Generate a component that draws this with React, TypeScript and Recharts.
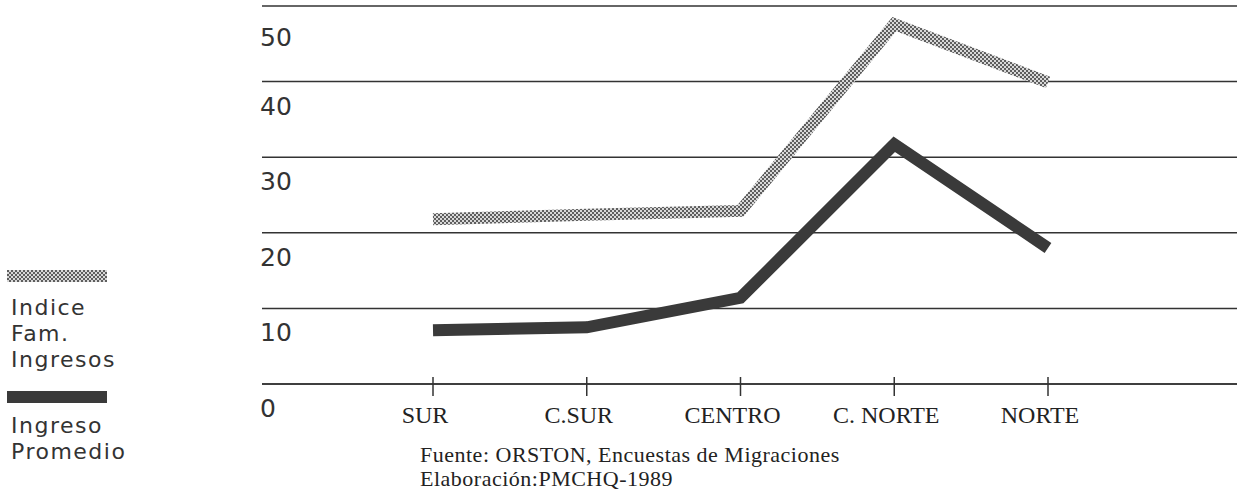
import React from 'react';
import { LineChart, Line, XAxis, YAxis, CartesianGrid, Legend } from 'recharts';

const regions = ['SUR', 'C.SUR', 'CENTRO', 'C. NORTE', 'NORTE'];
const indiceFamIngresos = [21.8, 22.4, 22.9, 47.6, 39.9];
const ingresoPromedio = [7.1, 7.5, 11.4, 31.7, 18.0];
const yTicks = [0, 10, 20, 30, 40, 50];
const sourceLines = ['Fuente: ORSTON, Encuestas de Migraciones', 'Elaboración:PMCHQ-1989'];

const data = regions.map((region, i) => ({
    region,
    indice: indiceFamIngresos[i],
    ingreso: ingresoPromedio[i],
}));

const SANS = '"DejaVu Sans", sans-serif';
const SERIF = '"Liberation Serif", serif';
const INK = '#333';

const YTick = (props: any) => {
    const { x, y, payload, index } = props;
    // top label sits a little lower under the frame line
    const dy = index === yTicks.length - 1 ? 40 : 33;
    return (
        <text x={x - 2} y={y + dy} fill={INK} fontSize={25} fontFamily={SANS} textAnchor="start">
            {payload.value}
        </text>
    );
};

const XTick = (props: any) => {
    const { x, y, payload } = props;
    return (
        <g>
            <line x1={x} x2={x} y1={y - 7} y2={y + 12} stroke={INK} strokeWidth={1.5} />
            <text x={x - 8} y={y + 39} fill="#222" fontSize={24} fontFamily={SERIF} textAnchor="middle">
                {payload.value}
            </text>
        </g>
    );
};

const renderLegend = (props: any) => {
    const { payload } = props;
    return (
        <div style={{ fontFamily: SANS, fontSize: 22, lineHeight: '26px', letterSpacing: 1.5, color: INK }}>
            {payload.map((entry: any, index: number) => (
                <div key={`leg-${index}`} style={{ marginTop: index === 0 ? 0 : 18 }}>
                    <svg width={100} height={12} style={{ display: 'block' }}>
                        <rect x={0} y={0} width={100} height={12} fill={entry.color} />
                    </svg>
                    <div style={{ marginTop: index === 0 ? 13 : 10, marginLeft: 4 }}>
                        {String(entry.value).split(' ').map((w: string, j: number) => (
                            <div key={j}>{w}</div>
                        ))}
                    </div>
                </div>
            ))}
        </div>
    );
};

export default function App() {
    return (
        <div style={{ position: 'absolute', left: 0, top: 0, width: 1237, height: 490, background: '#fff' }}>
            <LineChart width={1237} height={490} data={data} margin={{ top: 6, right: 0, left: 222, bottom: 76 }}>
                <defs>
                    <pattern id="dotPattern" x={0} y={0} width={4} height={4} patternUnits="userSpaceOnUse">
                        <rect x={0} y={0} width={4} height={4} fill="#d8d8d8" />
                        <rect x={0} y={0} width={2} height={2} fill="#5e5e5e" />
                        <rect x={2} y={2} width={2} height={2} fill="#5e5e5e" />
                    </pattern>
                </defs>
                <CartesianGrid vertical={false} stroke={INK} strokeWidth={1.5} />
                <XAxis
                    dataKey="region"
                    padding={{ left: 171, right: 189 }}
                    axisLine={{ stroke: INK, strokeWidth: 1.5 }}
                    tickLine={false}
                    tickSize={0}
                    tickMargin={0}
                    height={30}
                    tick={<XTick />}
                    interval={0}
                />
                <YAxis
                    domain={[0, 50]}
                    ticks={yTicks}
                    width={40}
                    axisLine={false}
                    tickLine={false}
                    tickSize={0}
                    tickMargin={0}
                    tick={<YTick />}
                    interval={0}
                />
                <Legend
                    layout="vertical"
                    align="center"
                    verticalAlign="middle"
                    wrapperStyle={{ left: 7, top: 270, width: 150 }}
                    content={renderLegend}
                />
                <Line
                    type="linear"
                    dataKey="indice"
                    name="Indice Fam. Ingresos"
                    stroke="url(#dotPattern)"
                    strokeWidth={12}
                    strokeLinejoin="miter"
                    dot={false}
                    isAnimationActive={false}
                />
                <Line
                    type="linear"
                    dataKey="ingreso"
                    name="Ingreso Promedio"
                    stroke="#3a3a3a"
                    strokeWidth={12}
                    strokeLinejoin="miter"
                    dot={false}
                    isAnimationActive={false}
                />
            </LineChart>
            <div
                style={{
                    position: 'absolute',
                    left: 420,
                    top: 443,
                    fontFamily: SERIF,
                    fontSize: 22,
                    lineHeight: '24px',
                    letterSpacing: 0.5,
                    color: '#222',
                    whiteSpace: 'nowrap',
                }}
            >
                {sourceLines.map((l, i) => (
                    <div key={i}>{l}</div>
                ))}
            </div>
        </div>
    );
}
